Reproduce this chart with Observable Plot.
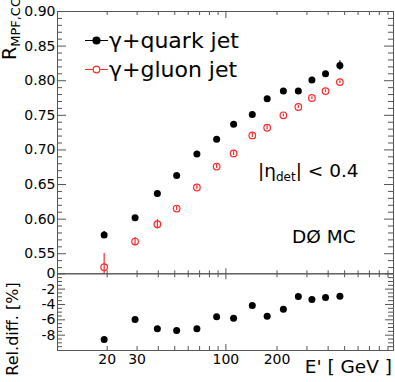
<!DOCTYPE html>
<html><head><meta charset="utf-8">
<script src="https://cdn.jsdelivr.net/npm/d3@7"></script>
<script src="https://cdn.jsdelivr.net/npm/@observablehq/plot@0.6"></script>
<style>
html,body{margin:0;padding:0;background:#fff;}
#chart{position:relative;width:395px;height:382px;overflow:hidden;background:#fff;}
#chart svg{position:absolute;left:0;top:0;}
</style></head><body><div id="chart"></div>
<script>
// ---- data ----
const energy   = [19.2, 29.2, 39.5, 51.3, 67.5, 88.2, 111, 143, 175, 218, 267, 321, 386, 469];
const quarkR   = [0.577, 0.602, 0.637, 0.663, 0.694, 0.7155, 0.737, 0.751, 0.774, 0.785, 0.785, 0.801, 0.810, 0.822];
const quarkErr = [0.005, 0.003, 0.002, 0.002, 0.002, 0.002, 0.002, 0.002, 0.002, 0.002, 0.002, 0.004, 0.003, 0.007];
const gluonR   = [0.5305, 0.5676, 0.5926, 0.6153, 0.6457, 0.676, 0.695, 0.721, 0.732, 0.750, 0.762, 0.775, 0.785, 0.798];
const gluonErr = [0.020, 0.006, 0.007, 0.003, 0.003, 0.003, 0.003, 0.003, 0.003, 0.002, 0.002, 0.002, 0.002, 0.002];
const relDiff  = [-8.57, -5.96, -7.17, -7.39, -7.17, -5.61, -5.78, -4.13, -5.52, -4.61, -2.96, -3.35, -3.09, -2.92];

const legendLabels = ["γ+quark jet", "γ+gluon jet"];
const xTickLabels = [20, 30, 100, 200];
const xMinorTicks = [20, 30, 40, 50, 60, 70, 80, 90, 200, 300, 400, 500, 600, 700, 800, 900];
const xMajorTicks = [100];
const topYLabels = [0.55, 0.60, 0.65, 0.70, 0.75, 0.80, 0.85, 0.90];
const botYLabels = [0, -2, -4, -6, -8];
const botYMajor = [0, -2, -4, -6, -8, -10];

// ---- layout ----
const W = 395, H = 382, ML = 57, MR = 2, TOP = 11, MID = 273.3, BOT = 350;
const innerW = W - ML - MR, topInnerH = MID - TOP, botInnerH = BOT - MID;
const FONT = "DejaVu Sans";
const AX = "#555";
const RED = "#ff2a2a";
const xDomain = [10.2, 970];

const topMinorY = d3.range(53, 90).map(v => v / 100).filter(v => Math.round(v * 100) % 5 !== 0);
const botMinorY = d3.range(-20, 1).map(v => v / 2).filter(v => v % 2 !== 0);

const quark = energy.map((e, i) => ({e, r: quarkR[i], err: quarkErr[i]}));
const gluon = energy.map((e, i) => ({e, r: gluonR[i], err: gluonErr[i]}));
const diff = energy.map((e, i) => ({e, d: relDiff[i]}));

function yTicks(minor, major, minLen, majLen) {
  return [
    Plot.tickY(minor, {y: d => d, insetRight: innerW - minLen, stroke: AX}),
    Plot.tickY(major, {y: d => d, insetRight: innerW - majLen, stroke: AX}),
    Plot.tickY(minor, {y: d => d, insetLeft: innerW - minLen, stroke: AX}),
    Plot.tickY(major, {y: d => d, insetLeft: innerW - majLen, stroke: AX})
  ];
}

const legendMark = () => {
  const g = d3.create("svg:g").attr("font-family", FONT).attr("text-anchor", "start").attr("fill", "black");
  const rows = [{y: 40.5, color: "black", open: false}, {y: 69.5, color: RED, open: true}];
  rows.forEach((row, i) => {
    g.append("line").attr("x1", 85).attr("x2", 108).attr("y1", row.y).attr("y2", row.y)
      .attr("stroke", row.color).attr("stroke-width", 1);
    g.append("circle").attr("cx", 96.5).attr("cy", row.y).attr("r", row.open ? 3.3 : 3.5)
      .attr("fill", row.open ? "white" : "black").attr("stroke", row.color).attr("stroke-width", 1.2);
    g.append("text").attr("x", 109).attr("y", row.y + 7.7).attr("font-size", 22)
      .text(legendLabels[i]);
  });
  // y label R_MPF,CC
  const t = g.append("text").attr("transform", "translate(16,60) rotate(-90)").attr("font-size", 19);
  t.append("tspan").text("R");
  t.append("tspan").attr("font-size", 13).attr("dy", 4).text("MPF,CC");
  // |eta_det| < 0.4
  const e = g.append("text").attr("x", 258).attr("y", 177).attr("font-size", 18.5);
  e.append("tspan").text("|η");
  e.append("tspan").attr("font-size", 12).attr("dy", 4).text("det");
  e.append("tspan").attr("dy", -4).text("| < 0.4");
  g.append("text").attr("x", 292).attr("y", 243).attr("font-size", 18.5).text("DØ MC");
  return g.node();
};

const topPlot = Plot.plot({
  width: W, height: H,
  marginLeft: ML, marginRight: MR, marginTop: TOP, marginBottom: H - MID,
  x: {type: "log", domain: xDomain, axis: null},
  y: {domain: [0.521, 0.90], label: null},
  style: {fontFamily: FONT, background: "white"},
  marks: [
    ...yTicks(topMinorY, topYLabels, 5, 9),
    Plot.tickX(xMinorTicks, {x: d => d, insetBottom: topInnerH - 4, stroke: AX}),
    Plot.tickX(xMajorTicks, {x: d => d, insetBottom: topInnerH - 7, stroke: AX}),
    Plot.tickX(xMinorTicks, {x: d => d, insetTop: topInnerH - 3, stroke: AX}),
    Plot.tickX(xMajorTicks, {x: d => d, insetTop: topInnerH - 5, stroke: AX}),
    Plot.frame({stroke: AX}),
    Plot.axisY(topYLabels, {tickSize: 0, tickPadding: 2, fontSize: 14, tickFormat: d3.format(".2f"), label: null, fill: "black"}),
    Plot.ruleX(gluon, {x: "e", y1: d => d.r - d.err, y2: d => d.r + d.err, stroke: RED, strokeWidth: 1.2, clip: true}),
    Plot.dot(gluon, {x: "e", y: "r", r: 3.3, stroke: RED, strokeWidth: 1.2, fill: "none"}),
    Plot.ruleX(quark, {x: "e", y1: d => d.r - d.err, y2: d => d.r + d.err, stroke: "black", strokeWidth: 1.2}),
    Plot.dot(quark, {x: "e", y: "r", r: 3.5, fill: "black"}),
    legendMark
  ]
});

const botLabelMark = () => {
  const g = d3.create("svg:g").attr("font-family", FONT).attr("fill", "black");
  g.append("text").attr("x", 392).attr("y", 373).attr("text-anchor", "end").attr("font-size", 18.5).text("E' [ GeV ]");
  g.append("text").attr("transform", "translate(17.5,329) rotate(-90)").attr("text-anchor", "middle")
    .attr("font-size", 16).text("Rel.diff. [%]");
  return g.node();
};

const botPlot = Plot.plot({
  width: W, height: H,
  marginLeft: ML, marginRight: MR, marginTop: MID, marginBottom: H - BOT,
  x: {type: "log", domain: xDomain, axis: null},
  y: {domain: [-10, 0], label: null},
  style: {fontFamily: FONT, background: "transparent"},
  marks: [
    ...yTicks(botMinorY, botYMajor, 5, 8),
    Plot.tickX(xMinorTicks, {x: d => d, insetBottom: botInnerH - 4, stroke: AX}),
    Plot.tickX(xMajorTicks, {x: d => d, insetBottom: botInnerH - 6, stroke: AX}),
    Plot.tickX(xMinorTicks, {x: d => d, insetTop: botInnerH - 4, stroke: AX}),
    Plot.tickX(xMajorTicks, {x: d => d, insetTop: botInnerH - 6, stroke: AX}),
    Plot.frame({stroke: AX}),
    Plot.axisY(botYLabels, {tickSize: 0, tickPadding: 2, fontSize: 14, tickFormat: d => String(d), label: null, fill: "black"}),
    Plot.text(xTickLabels, {x: d => d, text: d => String(d), frameAnchor: "bottom", dy: 13, fontSize: 14, fill: "black"}),
    Plot.dot(diff, {x: "e", y: "d", r: 3.5, fill: "black"}),
    botLabelMark
  ]
});

const chart = document.getElementById("chart");
chart.appendChild(topPlot);
chart.appendChild(botPlot);
</script></body></html>
